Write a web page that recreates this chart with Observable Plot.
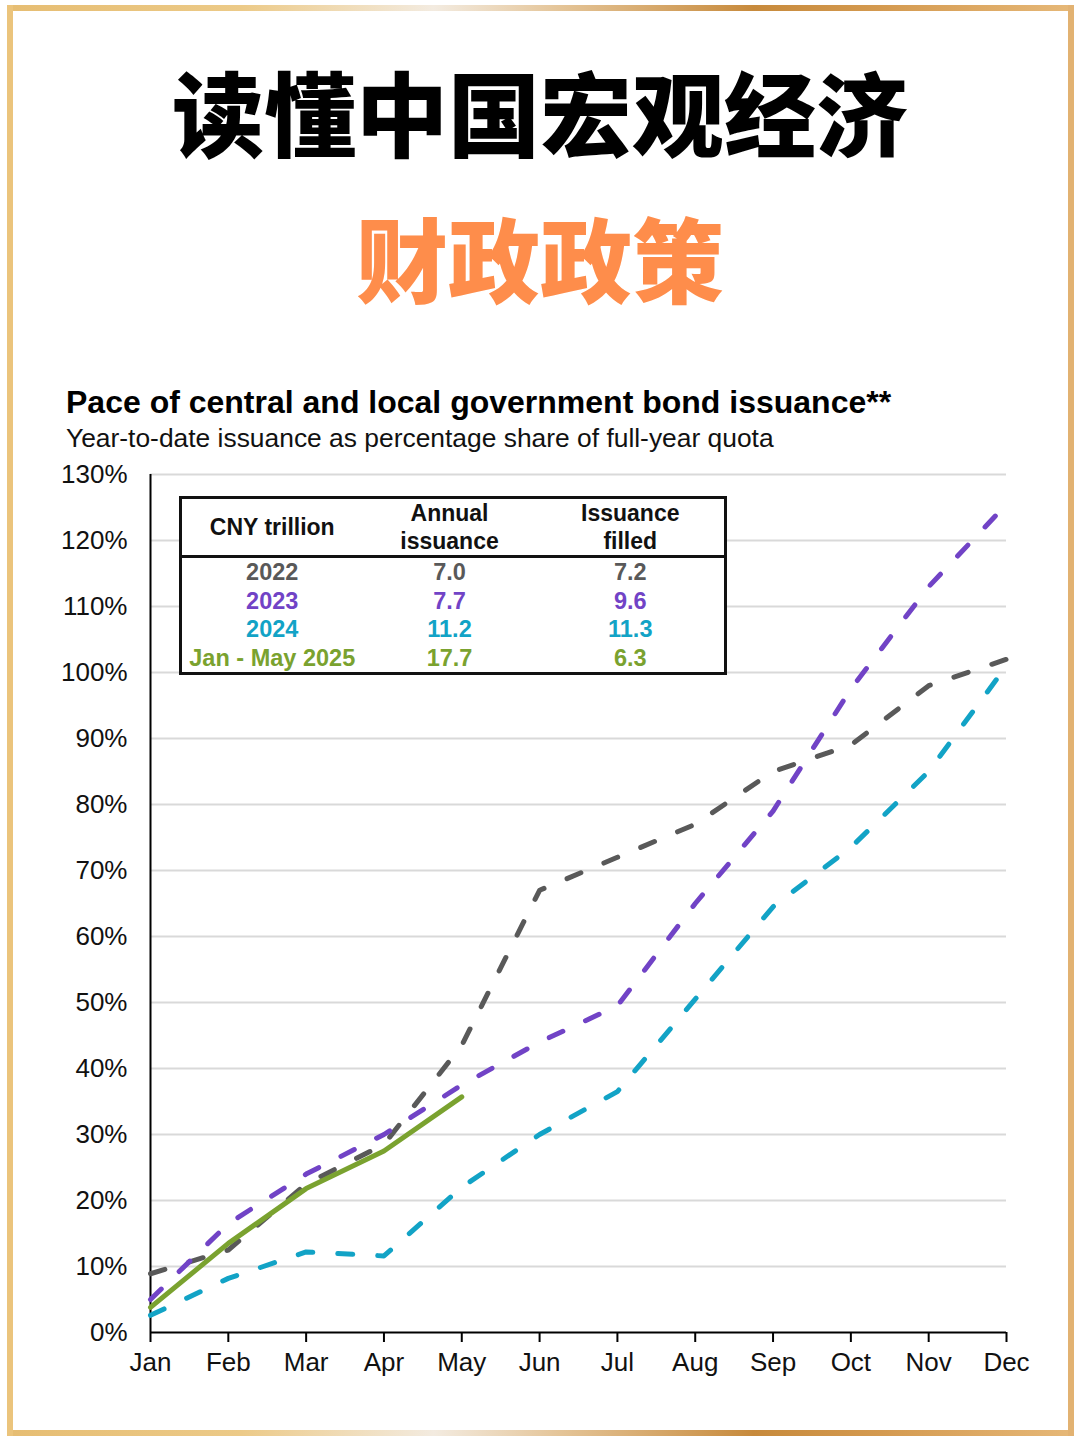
<!DOCTYPE html>
<html>
<head>
<meta charset="utf-8">
<script src="https://cdn.jsdelivr.net/npm/d3@7"></script>
<script src="https://cdn.jsdelivr.net/npm/@observablehq/plot@0.6"></script>
<style>
  html, body { margin: 0; padding: 0; background: #fff; }
  #page { position: relative; width: 1080px; height: 1443px; background: #fff; overflow: hidden; font-family: "Liberation Sans", Arial, sans-serif; }
  .bar { position: absolute; }
  .cn { position: absolute; left: 0; width: 1080px; text-align: center; font-family: "Noto Sans CJK SC", sans-serif; font-weight: 900; font-size: 92px; line-height: 1; white-space: nowrap; }
  #ctitle { position: absolute; left: 66px; top: 386px; font-size: 32px; font-weight: bold; line-height: 1; color: #000; white-space: nowrap; }
  #csub { position: absolute; left: 66px; top: 425px; font-size: 26.4px; line-height: 1; color: #111; white-space: nowrap; }
  #chart { position: absolute; left: 0; top: 450px; }
  #tbl { position: absolute; left: 179px; top: 496px; width: 545px; border: 3px solid #111; background: #fff; border-collapse: collapse; font-weight: bold; font-size: 23.5px; table-layout: fixed; }
  #tbl td, #tbl th { padding: 0; text-align: center; white-space: nowrap; }
  #tbl th { height: 55px; border-bottom: 3px solid #111; color: #111; font-size: 23px; line-height: 28px; }
  #tbl td { height: 28.5px; line-height: 24px; }
</style>
</head>
<body>
<div id="page">
  <div class="bar" style="left:7px;top:5px;width:1067px;height:6px;background:linear-gradient(90deg,#e6bd72 0%,#ecca88 22%,#f3ebe0 40%,#e4c497 52%,#c78a3c 70%,#d49a50 82%,#e6b878 100%);"></div>
  <div class="bar" style="left:7px;top:1430px;width:1067px;height:6px;background:linear-gradient(90deg,#e6bd72 0%,#ecca88 22%,#f3ebe0 40%,#e4c497 52%,#c78a3c 70%,#d49a50 82%,#e6b878 100%);"></div>
  <div class="bar" style="left:7px;top:5px;width:6px;height:1431px;background:#ebc47c;"></div>
  <div class="bar" style="left:1068px;top:5px;width:6px;height:1431px;background:#e2b272;"></div>

  <div class="cn" id="t1" style="top:64px;color:#000;"></div>
  <div class="cn" id="t2" style="top:210px;color:#fe8d4b;"></div>

  <div id="ctitle"></div>
  <div id="csub"></div>
  <div id="chart"></div>
  <table id="tbl"></table>
</div>
<script>
// ---- text ----
const mainTitle = "读懂中国宏观经济";
const subTitleCn = "财政政策";
const chartTitle = "Pace of central and local government bond issuance**";
const chartSubtitle = "Year-to-date issuance as percentage share of full-year quota";

// ---- data ----
const months = ["Jan","Feb","Mar","Apr","May","Jun","Jul","Aug","Sep","Oct","Nov","Dec"];
const yTicks = [0,10,20,30,40,50,60,70,80,90,100,110,120,130];
const values2022 = [8.9, 12.5, 22.5, 28.5, 43.5, 67, 72, 77, 85, 89, 98, 102];
const values2023 = [5, 16.5, 24, 30, 37.5, 44, 49.5, 65, 79, 97.5, 113, 125.5];
const values2024 = [2.6, 8.2, 12.2, 11.6, 22, 30, 36.5, 50.5, 64.5, 73.5, 85, 101];
const values2025 = [3.8, 13.5, 21.8, 27.5, 35.7];

const seriesNames = ["2022","2023","2024","Jan - May 2025"];
const seriesColors = ["#595959","#7143c6","#12a3c6","#7aa22f"];

// table
const tableHeader = ["CNY trillion","Annual<br>issuance","Issuance<br>filled"];
const annualIssuance = ["7.0","7.7","11.2","17.7"];
const issuanceFilled = ["7.2","9.6","11.3","6.3"];

document.getElementById("t1").textContent = mainTitle;
document.getElementById("t2").textContent = subTitleCn;
document.getElementById("ctitle").textContent = chartTitle;
document.getElementById("csub").textContent = chartSubtitle;

const rows = (vals, name) => vals.map((v, i) => ({month: months[i], value: v, series: name}));
const d2022 = rows(values2022, seriesNames[0]);
const d2023 = rows(values2023, seriesNames[1]);
const d2024 = rows(values2024, seriesNames[2]);
const d2025 = rows(values2025, seriesNames[3]);

const dashed = (data, color) => Plot.line(data, {
  x: "month", y: "value", stroke: color, strokeWidth: 5,
  strokeDasharray: "15 25", strokeLinecap: "round", strokeLinejoin: "round"
});

const chart = Plot.plot({
  width: 1080,
  height: 950,
  marginLeft: 150,
  marginRight: 74,
  marginTop: 24,
  marginBottom: 68,
  style: { fontFamily: "'Liberation Sans', Arial, sans-serif", fontSize: "26px", color: "#111", background: "transparent", overflow: "visible" },
  x: { type: "point", domain: months, padding: 0, round: false, label: null },
  y: { domain: [0, 130], label: null },
  marks: [
    Plot.ruleY(yTicks.filter(d => d > 0), { stroke: "#d9d9d9", strokeWidth: 2 }),
    Plot.axisY(yTicks, { tickSize: 0, tickPadding: 23, tickFormat: d => d + "%", fontSize: 26, label: null }),
    Plot.axisX(months, { tickSize: 10, tickPadding: 10, strokeWidth: 2, stroke: "#000", fontSize: 26, label: null }),
    Plot.ruleX([months[0]], { stroke: "#000", strokeWidth: 2 }),
    Plot.ruleY([0], { stroke: "#000", strokeWidth: 2 }),
    dashed(d2022, seriesColors[0]),
    dashed(d2024, seriesColors[2]),
    dashed(d2023, seriesColors[1]),
    Plot.line(d2025, { x: "month", y: "value", stroke: seriesColors[3], strokeWidth: 5, strokeLinecap: "round", strokeLinejoin: "round" })
  ]
});
document.getElementById("chart").appendChild(chart);

// table
const tbl = document.getElementById("tbl");
let html = "<colgroup><col style='width:182px'><col style='width:174px'><col style='width:189px'></colgroup>";
html += "<tr>" + tableHeader.map(h => `<th>${h}</th>`).join("") + "</tr>";
seriesNames.forEach((n, i) => {
  const c = seriesColors[i];
  html += `<tr style="color:${c}"><td>${n}</td><td>${annualIssuance[i]}</td><td>${issuanceFilled[i]}</td></tr>`;
});
tbl.innerHTML = html;
</script>
</body>
</html>
